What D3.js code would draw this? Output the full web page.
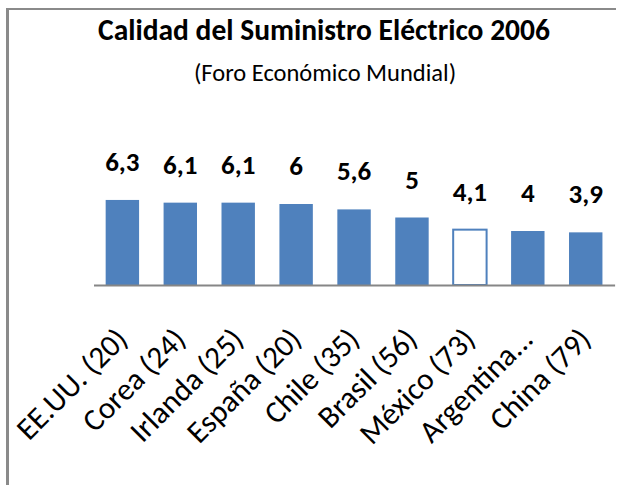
<!DOCTYPE html>
<html><head><meta charset="utf-8">
<script src="https://cdn.jsdelivr.net/npm/d3@7"></script>
<style>html,body{margin:0;padding:0;background:#fff;}svg{display:block;}</style>
</head><body>
<script>
const categories = ["EE.UU. (20)","Corea (24)","Irlanda (25)","España (20)","Chile (35)","Brasil (56)","México (73)","Argentina...","China (79)"];
const values = [6.3, 6.1, 6.1, 6, 5.6, 5, 4.1, 4, 3.9];
const valueLabels = ["6,3","6,1","6,1","6","5,6","5","4,1","4","3,9"];
const highlighted = ["México (73)"];
const title = "Calidad del Suministro Eléctrico 2006";
const subtitle = "(Foro Económico Mundial)";

const W = 618, H = 485;
const font = "Carlito, Calibri, Lato, sans-serif";
const svg = d3.select("body").append("svg").attr("width", W).attr("height", H);
svg.append("rect").attr("width", W).attr("height", H).attr("fill", "#fff");

// frame
svg.append("line").attr("x1", 7.5).attr("x2", 7.5).attr("y1", 8).attr("y2", H).attr("stroke", "#8a8a8a").attr("stroke-width", 3);
svg.append("line").attr("x1", 6).attr("x2", 616).attr("y1", 9).attr("y2", 9).attr("stroke", "#8a8a8a").attr("stroke-width", 2);

const x = d3.scaleBand().domain(categories).range([93.5, 614.6]).paddingInner(0.423).paddingOuter(0.21);
const y = d3.scaleLinear().domain([0, 7]).range([285, 190.5]);

svg.append("text").attr("x", 324).attr("y", 40).attr("text-anchor", "middle")
  .attr("font-family", font).attr("font-weight", "bold").attr("font-size", 29.5).attr("fill", "#000").text(title);
svg.append("text").attr("x", 325).attr("y", 81).attr("text-anchor", "middle")
  .attr("font-family", font).attr("font-size", 24.5).attr("fill", "#000").text(subtitle);

const g = svg.append("g");
g.selectAll("rect.bar").data(categories).join("rect").attr("class", "bar")
  .attr("x", d => x(d)).attr("width", x.bandwidth())
  .attr("y", (d, i) => y(values[i])).attr("height", (d, i) => y(0) - y(values[i]))
  .attr("fill", d => highlighted.includes(d) ? "#fff" : "#4F81BD")
  .attr("stroke", d => highlighted.includes(d) ? "#4F81BD" : "none")
  .attr("stroke-width", 2);

// axis line
const axis = d3.axisBottom(x).tickSize(0).tickFormat("");
const ag = svg.append("g").attr("transform", `translate(0,${y(0)})`).call(axis);
ag.select(".domain").attr("stroke", "#868686").attr("stroke-width", 2);

g.selectAll("text.val").data(categories).join("text").attr("class", "val")
  .attr("x", d => x(d) + x.bandwidth() / 2).attr("y", (d, i) => y(values[i]) - 29)
  .attr("text-anchor", "middle").attr("font-family", font).attr("font-weight", "bold")
  .attr("font-size", 27).attr("fill", "#000").text((d, i) => valueLabels[i]);

g.selectAll("text.cat").data(categories).join("text").attr("class", "cat")
  .attr("transform", d => `translate(${x(d) + x.bandwidth() / 2 + 7},341) rotate(-45)`)
  .attr("text-anchor", "end").attr("font-family", font).attr("font-size", 31).attr("fill", "#000").text(d => d);
</script>
</body></html>
